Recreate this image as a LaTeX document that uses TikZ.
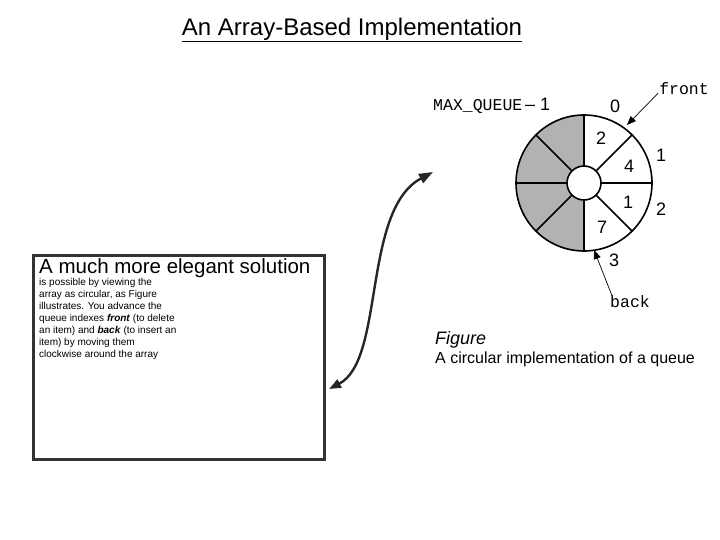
\documentclass[tikz,border=0pt]{standalone}
\usepackage{fontspec}
\setmainfont{Liberation Sans}
\newfontfamily\monof{Liberation Mono}
\usetikzlibrary{arrows.meta,calc}
\begin{document}
\begin{tikzpicture}[x=1pt,y=-1pt,
  lbl/.style={font=\fontsize{18}{20}\selectfont,inner sep=0},
  ml/.style={font=\monof\fontsize{16.5}{18}\selectfont,inner sep=0},
  seg/.style={line width=1.6pt},
  ptr/.style={line width=0.7pt,-{Triangle[length=9pt,width=7pt]}}]
\useasboundingbox (0,0) rectangle (720,540);
\node (title) at (352,30) {\fontsize{24}{28}\selectfont\underline{An Array-Based Implementation}};
\node[draw=black!80,line width=3pt,anchor=north west,minimum width=291,minimum height=204,inner sep=0] (box) at (32,254) {};
\node[anchor=north west,align=left,inner sep=0] (txt) at (39,258)
 {\fontsize{20.5}{24}\selectfont A much more elegant solution\\ is possible by viewing the\\ array as circular, as Figure\\ illustrates. You advance the\\ queue indexes \textbf{\textit{front}} (to delete\\ an item) and \textbf{\textit{back}} (to insert an\\ item) by moving them\\ clockwise around the array};
\coordinate (c) at (584,183);
\fill[black!30] (c) ++(0,68) arc[start angle=90,end angle=270,radius=68] -- cycle;
\draw[seg] (c) circle[radius=68];
\foreach \a in {90,45,0,-45,-90,-135,180,135}
  \draw[seg] (c) ++(\a:17) -- ++(\a:51);
\draw[seg,fill=white] (c) circle[radius=17];
\node[lbl] (v2) at (601,138) {2};
\node[lbl] (v4) at (629,166) {4};
\node[lbl] (v1) at (628,202) {1};
\node[lbl] (v7) at (602,227) {7};
\node[lbl] (i0) at (615,106) {0};
\node[lbl] (i1) at (661,155) {1};
\node[lbl] (i2) at (661,209) {2};
\node[lbl] (i3) at (614,260) {3};
\node[ml,anchor=west] (mq) at (433,106) {MAX\_QUEUE\,{\fontsize{18}{20}\selectfont\rmfamily – 1}};
\node[ml] (front) at (684,89) {front};
\node[ml] (back) at (630,302) {back};
\coordinate (fp) at (627,125);
\coordinate (bp) at (594,250);
\draw[ptr] (front.south west) ++(-1,-2) -- (fp);
\draw[ptr] (back.north west) ++(2,0) -- (bp);
\node[anchor=west,inner sep=0] (fig) at (435,340) {\fontsize{18}{20}\selectfont\itshape Figure};
\node[anchor=west,inner sep=0] (cap) at (435,359) {\fontsize{16}{18}\selectfont A circular implementation of a queue};
\coordinate (ae) at (433,172);
\draw[line width=2.4pt,black!85,{Triangle[length=12pt,width=9pt]}-{Triangle[length=14pt,width=10pt]}]
  (box.east |- 0,389) ++(3,0) .. controls (385,360) and (362,210) .. (ae);
\end{tikzpicture}
\end{document}
